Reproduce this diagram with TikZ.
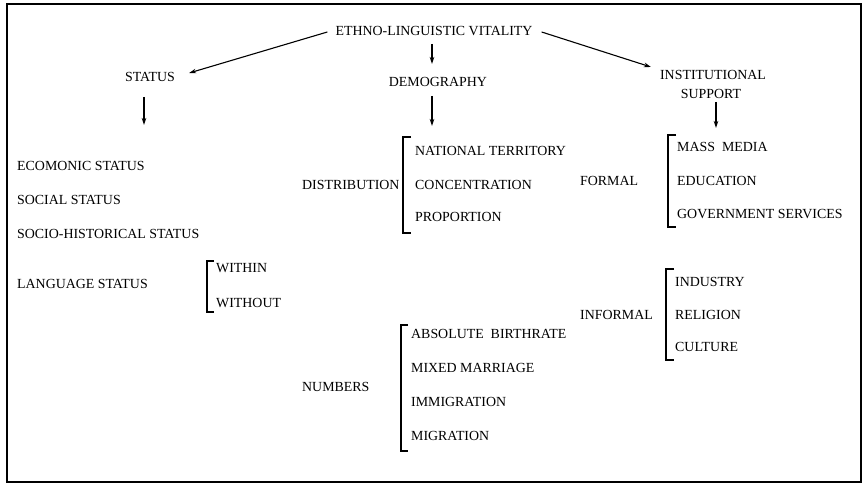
\documentclass[tikz,border=0pt]{standalone}
\usepackage{fontspec}
\setmainfont{Liberation Serif}
\usetikzlibrary{arrows.meta}
\begin{document}
\begin{tikzpicture}[x=1pt,y=-1pt,
  lbl/.style={inner sep=0pt, font=\fontsize{13.9}{16}\selectfont, text height=9.2pt, text depth=0pt},
  lft/.style={lbl, anchor=west},
  arr/.style={line width=1.1pt, -{Stealth[length=7pt,width=4.5pt]}},
  brk/.style={line width=1.1pt},
]
\useasboundingbox (0,0) rectangle (863,484);
\draw[line width=1.6pt] (7,4) rectangle (861,482);

% top level
\node[lbl] (ethno) at (434,31) {ETHNO-LINGUISTIC VITALITY};
\node[lbl] (status) at (150,77) {STATUS};
\node[lbl] (demo) at (438,82) {DEMOGRAPHY};
\node[lbl] (inst) at (713,75) {INSTITUTIONAL};
\node[lbl] (supp) at (711,94) {SUPPORT};

\draw[arr] ([xshift=-8pt,yshift=-1pt]ethno.west) -- ([xshift=14pt,yshift=4pt]status.east);
\draw[arr] ([xshift=9pt,yshift=-1pt]ethno.east) -- ([xshift=-9pt,yshift=8pt]inst.west);

% coordinates for down arrows
\coordinate (eA) at (432,44);
\coordinate (eB) at (432,64);
\draw[arr] (eA) -- (eB);
\coordinate (sA) at (144,97);
\coordinate (sB) at (144,125);
\draw[arr] (sA) -- (sB);
\coordinate (dA) at (432,96);
\coordinate (dB) at (432,126);
\draw[arr] (dA) -- (dB);
\coordinate (iA) at (716,102);
\coordinate (iB) at (716,128);
\draw[arr] (iA) -- (iB);

% status column
\node[lft] (eco) at (17,166) {ECOMONIC STATUS};
\node[lft] (soc) at (17,200) {SOCIAL STATUS};
\node[lft] (hist) at (17,234) {SOCIO-HISTORICAL STATUS};
\node[lft] (lang) at (17,284) {LANGUAGE STATUS};
\draw[brk] (214,261) -- (207,261) -- (207,312) -- (214,312);
\node[lft] (within) at (216,268) {WITHIN};
\node[lft] (without) at (216,303) {WITHOUT};

% demography column
\node[lft] (dist) at (302,185) {DISTRIBUTION};
\draw[brk] (411,137) -- (403,137) -- (403,233) -- (411,233);
\node[lft] (nat) at (415,151) {NATIONAL TERRITORY};
\node[lft] (conc) at (415,185) {CONCENTRATION};
\node[lft] (prop) at (415,217) {PROPORTION};

\node[lft] (num) at (302,387) {NUMBERS};
\draw[brk] (408,325) -- (401,325) -- (401,451) -- (408,451);
\node[lft] (abs) at (411,334) {ABSOLUTE\ \ BIRTHRATE};
\node[lft] (mix) at (411,368) {MIXED MARRIAGE};
\node[lft] (imm) at (411,402) {IMMIGRATION};
\node[lft] (mig) at (411,436) {MIGRATION};

% institutional column
\node[lft] (formal) at (580,181) {FORMAL};
\draw[brk] (676,135) -- (668,135) -- (668,227) -- (676,227);
\node[lft] (mass) at (677,147) {MASS\ \ MEDIA};
\node[lft] (edu) at (677,181) {EDUCATION};
\node[lft] (gov) at (677,214) {GOVERNMENT SERVICES};

\node[lft] (informal) at (580,315) {INFORMAL};
\draw[brk] (674,269) -- (666,269) -- (666,360) -- (674,360);
\node[lft] (ind) at (675,282) {INDUSTRY};
\node[lft] (rel) at (675,315) {RELIGION};
\node[lft] (cul) at (675,347) {CULTURE};
\end{tikzpicture}
\end{document}
